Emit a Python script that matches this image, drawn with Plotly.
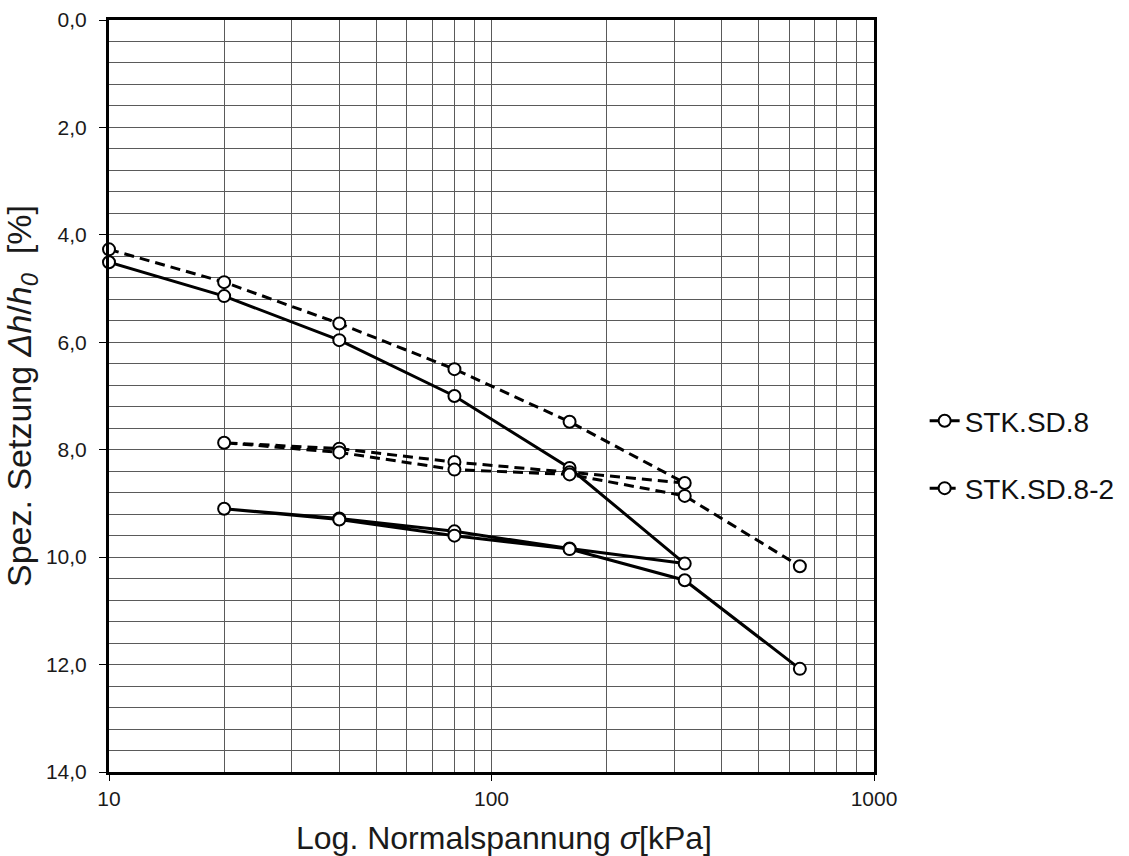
import plotly.graph_objects as go

# Load path (loading -> unloading -> reloading) for each specimen
sigma_sd8 = [10, 20, 40, 80, 160, 320, 160, 80, 40, 20, 40, 80, 160, 320, 640]
setz_sd8 = [4.51, 5.14, 5.96, 7.00, 8.34, 10.12, 9.84, 9.52, 9.28, 9.10, 9.30, 9.60, 9.85, 10.43, 12.08]

sigma_sd8_2 = [10, 20, 40, 80, 160, 320, 160, 80, 40, 20, 40, 80, 160, 320, 640]
setz_sd8_2 = [4.27, 4.88, 5.65, 6.50, 7.48, 8.62, 8.42, 8.23, 7.98, 7.87, 8.05, 8.37, 8.46, 8.86, 10.17]

series_names = ["STK.SD.8", "STK.SD.8-2"]

y_tickvals = [0, 2, 4, 6, 8, 10, 12, 14]
y_ticktext = ["0,0", "2,0", "4,0", "6,0", "8,0", "10,0", "12,0", "14,0"]
x_tickvals = [10, 100, 1000]
x_ticktext = ["10", "100", "1000"]

x_title = "Log. Normalspannung <i>σ</i>[kPa]"
y_title = "Spez. Setzung <i>Δh</i>/<i>h</i><sub><i>0</i></sub>\u00a0\u00a0[%]"

FONT = "Liberation Sans, Arial, sans-serif"
grid_col = "#5a5a5a"

fig = go.Figure()
fig.add_trace(go.Scatter(
    x=sigma_sd8, y=setz_sd8, mode="lines+markers", name=series_names[0],
    line=dict(color="black", width=3),
    marker=dict(symbol="circle", size=12, color="white", line=dict(color="black", width=2)),
    cliponaxis=False, legendgroup="a",
))
fig.add_trace(go.Scatter(
    x=sigma_sd8_2, y=setz_sd8_2, mode="lines+markers", name=series_names[1],
    line=dict(color="black", width=3, dash="10px,6px"),
    marker=dict(symbol="circle", size=12, color="white", line=dict(color="black", width=2)),
    cliponaxis=False, legendgroup="b",
))

fig.add_annotation(
    text=x_title, xref="paper", yref="paper", x=0.516, y=-0.088,
    xanchor="center", yanchor="middle", showarrow=False,
    font=dict(size=32, family=FONT, color="#1a1a1a"),
)

fig.update_layout(
    width=1129, height=856,
    margin=dict(l=109, r=255, t=20, b=84),
    paper_bgcolor="white", plot_bgcolor="white",
    font=dict(family=FONT, color="#1a1a1a", size=21),
    showlegend=True,
    legend=dict(
        x=0.819, xref="container", xanchor="left",
        y=0.469, yref="container", yanchor="middle",
        font=dict(size=28, family=FONT, color="#111"),
        tracegroupgap=28, bgcolor="rgba(0,0,0,0)",
    ),
    xaxis=dict(
        type="log", range=[1, 3], automargin=False,
        tickvals=x_tickvals, ticktext=x_ticktext,
        ticks="outside", ticklen=6, tickwidth=1, tickcolor="black",
        showline=True, linecolor="black", linewidth=3, mirror=True,
        showgrid=True, gridcolor=grid_col, gridwidth=1,
        minor=dict(dtick="D1", showgrid=True, gridcolor=grid_col, gridwidth=1, ticks=""),
        tickfont=dict(size=21, family=FONT),
        zeroline=False,
    ),
    yaxis=dict(
        range=[14, 0], automargin=False,
        tickvals=y_tickvals, ticktext=y_ticktext,
        ticks="outside", ticklen=7, tickwidth=1, tickcolor="black",
        ticklabelstandoff=8,
        showline=True, linecolor="black", linewidth=3, mirror=True,
        showgrid=True, gridcolor=grid_col, gridwidth=1,
        minor=dict(dtick=0.4, showgrid=True, gridcolor=grid_col, gridwidth=1, ticks=""),
        tickfont=dict(size=21, family=FONT),
        title=dict(text=y_title, font=dict(size=34, family=FONT), standoff=6),
        zeroline=False,
    ),
)

fig.write_html("out.html")
